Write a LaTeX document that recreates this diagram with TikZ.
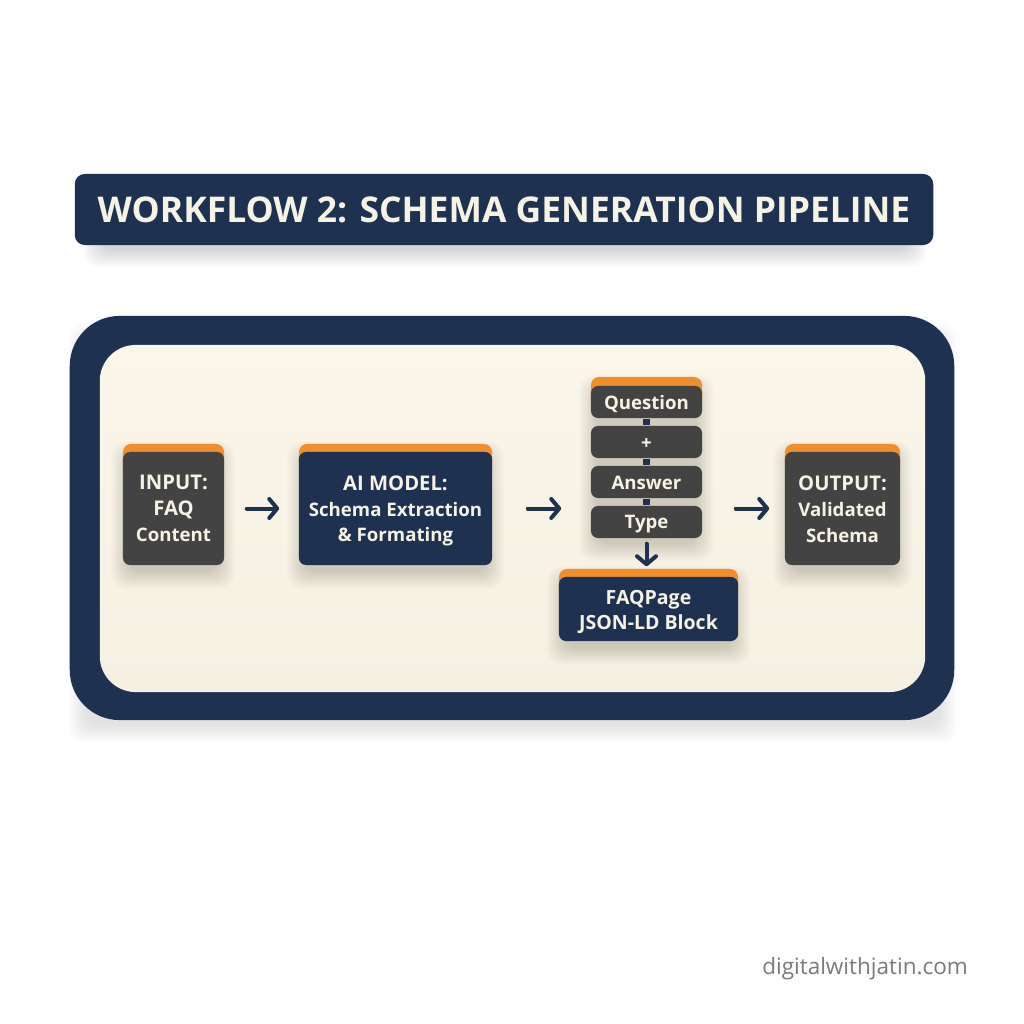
\documentclass[tikz,border=0pt]{standalone}
\usepackage{fontspec}
\usetikzlibrary{arrows.meta}
\setmainfont{Open Sans}
\definecolor{navy}{HTML}{1F3150}
\definecolor{slate}{HTML}{434343}
\definecolor{amber}{HTML}{F08E2E}
\definecolor{cream}{HTML}{F6F2E4}
\definecolor{paneltop}{HTML}{FAF6E9}
\definecolor{panelbottom}{HTML}{F5F0E2}
\newcommand{\softshadow}[5]{%
  \foreach \k in {0,...,13}{
    \fill[black,opacity=#5,rounded corners=0.14cm]
      (#1-\k*1.3,#2-\k*1.3) rectangle (#3+\k*1.3,#4+\k*1.3);
  }}
\newcommand{\capline}[1]{{\fontsize{5.75}{7.35}\selectfont #1}}
\newcommand{\nudge}[1]{\rule{0pt}{#1}}
\tikzset{
  x=0.01cm,y=-0.01cm,
  panel/.style={rectangle,inner sep=0pt,align=center,text=cream,font=\bfseries\fontsize{5.3}{7.35}\selectfont},
  graybox/.style={panel,fill=slate,rounded corners=0.07cm},
  navybox/.style={panel,fill=navy,rounded corners=0.07cm},
  tab/.style={rectangle,inner sep=0pt,fill=amber,rounded corners=0.08cm},
  flow/.style={draw=navy,line width=0.04cm,line cap=round,-{Straight Barb[length=0.08cm,width=0.19cm,round]}},
  link/.style={draw=navy,line width=0.07cm},
}
\begin{document}
\begin{tikzpicture}
\useasboundingbox (0,0) rectangle (1024,1024);
\fill[white] (0,0) rectangle (1024,1024);

% title
\softshadow{100}{200}{910}{250}{0.012}
\node[panel,fill=navy,rounded corners=0.1cm,minimum width=8.58cm,minimum height=0.71cm,
  font=\bfseries\fontsize{10.08}{12}\selectfont] (title) at (504,209.5) {\nudge{7.8pt}WORKFLOW 2: SCHEMA GENERATION PIPELINE};

% frame
\softshadow{85}{340}{940}{726}{0.006}
\node[rectangle,fill=navy,rounded corners=0.5cm,minimum width=8.84cm,minimum height=4.04cm] (frame) at (512,518) {};
\node[rectangle,top color=paneltop,bottom color=panelbottom,rounded corners=0.36cm,minimum width=8.25cm,minimum height=3.47cm] (inner) at (512.5,518.5) {};

% shadows of the boxes
\softshadow{128}{458}{218}{572}{0.013}
\softshadow{304}{458}{487}{572}{0.013}
\softshadow{596}{392}{697}{544}{0.013}
\softshadow{564}{583}{733}{648}{0.013}
\softshadow{790}{458}{895}{572}{0.013}

% orange tabs
\node[tab,minimum width=1.01cm,minimum height=0.3cm] (inputtab) at (173.5,459) {};
\node[tab,minimum width=1.93cm,minimum height=0.3cm] (modeltab) at (395.5,459) {};
\node[tab,minimum width=1.11cm,minimum height=0.3cm] (qtab) at (646.5,392) {};
\node[tab,minimum width=1.79cm,minimum height=0.3cm] (faqtab) at (648.5,584) {};
\node[tab,minimum width=1.15cm,minimum height=0.3cm] (outputtab) at (842.5,459) {};

% boxes
\node[graybox,minimum width=1.01cm,minimum height=1.13cm] (input) at (173.5,508.5) {\capline{INPUT:}\\\capline{FAQ}\\Content};
\node[navybox,minimum width=1.93cm,minimum height=1.13cm] (model) at (395.5,508.5) {\nudge{5.6pt}\capline{AI MODEL:}\\Schema Extraction\\\&~Formating};
\node[graybox,minimum width=1.11cm,minimum height=0.32cm] (question) at (646.5,402) {\nudge{4.9pt}Question};
\node[graybox,minimum width=1.11cm,minimum height=0.32cm] (plus) at (646.5,442) {\nudge{4.5pt}+};
\node[graybox,minimum width=1.11cm,minimum height=0.32cm] (answer) at (646.5,482) {\nudge{4.5pt}Answer};
\node[graybox,minimum width=1.11cm,minimum height=0.32cm] (type) at (646.5,522) {\nudge{5.1pt}Type};
\node[navybox,minimum width=1.79cm,minimum height=0.64cm,font=\bfseries\fontsize{5.55}{7.2}\selectfont] (faq) at (648.5,609) {\nudge{5.6pt}FAQPage\\JSON-LD Block};
\node[graybox,minimum width=1.15cm,minimum height=1.13cm] (output) at (842.5,508.5) {\nudge{4.5pt}\capline{OUTPUT:}\\Validated\\Schema};

% connectors
\draw[link] (question.south) -- (plus.north);
\draw[link] (plus.south) -- (answer.north);
\draw[link] (answer.south) -- (type.north);
\draw[flow,shorten <=0.22cm,shorten >=0.19cm] (input.east) -- (model.west);
\draw[flow,shorten <=0.35cm,shorten >=0.29cm] (model.east) -- (model.east -| type.west);
\draw[flow,shorten <=0.33cm,shorten >=0.15cm] (model.east -| type.east) -- (output.west);
\draw[flow,shorten <=0.05cm,shorten >=0.1cm] (type.south) -- (type.south |- faq.north);

% watermark
\node[anchor=base east,inner sep=0pt,text=black!52,font=\fontsize{6.4}{8}\selectfont] (mark) at (968.5,974) {digitalwithjatin.com};
\end{tikzpicture}
\end{document}
